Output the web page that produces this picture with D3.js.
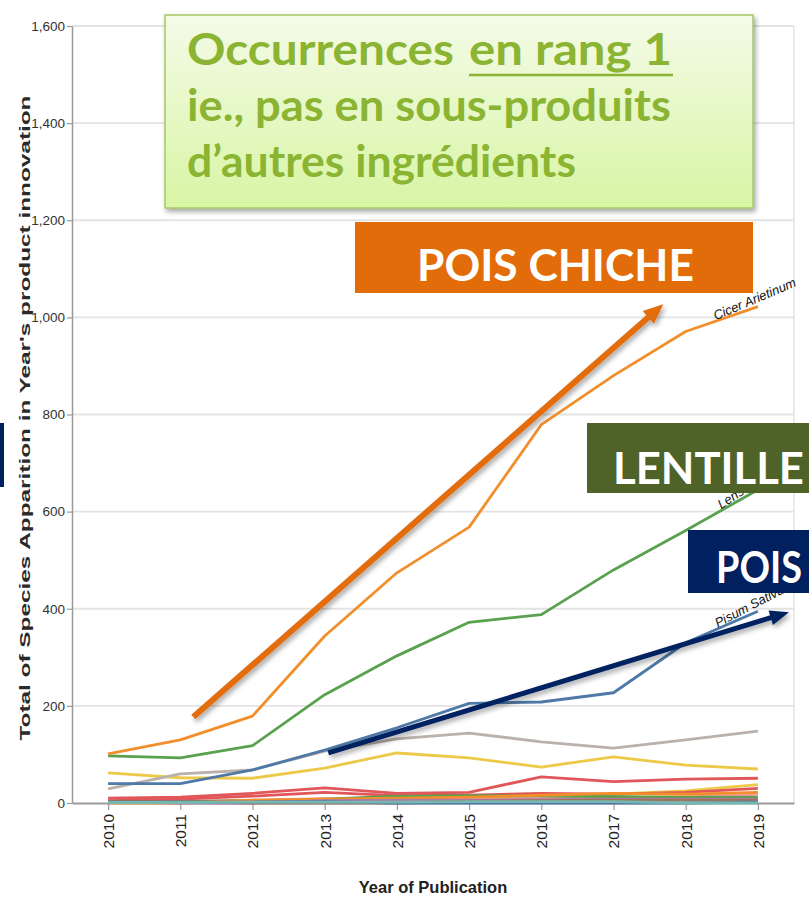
<!DOCTYPE html>
<html><head><meta charset="utf-8">
<script src="https://cdn.jsdelivr.net/npm/d3@7"></script>
<style>body{margin:0;background:#fff}svg{display:block}</style>
</head><body>
<svg id="chart" width="809" height="901"></svg>
<script>
// ---------- data ----------
const years = [2010, 2011, 2012, 2013, 2014, 2015, 2016, 2017, 2018, 2019];
const yTicks = [0, 200, 400, 600, 800, 1000, 1200, 1400, 1600];

const cicerArietinum = [101, 130, 179, 344, 474, 568, 779, 880, 971, 1022];
const lensCulinaris  = [97, 93, 118, 223, 303, 372, 388, 480, 561, 645];
const pisumSativum   = [40, 40, 68, 109, 155, 205, 208, 227, 330, 395];
const speciesGray    = [29, 60, 68, 107, 132, 144, 126, 113, 130, 148];
const speciesYellow  = [62, 52, 51, 72, 103, 93, 74, 95, 78, 70];
const speciesRed     = [10, 12, 20, 31, 20, 22, 54, 44, 49, 51];
const speciesRed2    = [5, 8, 14, 22, 15, 16, 20, 18, 22, 30];
const speciesYellow2 = [2, 3, 5, 8, 10, 12, 15, 18, 25, 38];
const speciesPink    = [3, 4, 6, 9, 7, 8, 9, 10, 12, 18];
const speciesOrange2 = [0, 0, 6, 8, 10, 12, 16, 20, 18, 22];
const speciesGreen2  = [2, 3, 5, 8, 14, 15, 14, 13, 12, 12];
const speciesPurple  = [3, 0, 0, 5, 6, 6, 7, 8, 8, 8];
const speciesBrown   = [4, 3, 0, 0, 0, 4, 5, 6, 6, 6];
const speciesBlue2   = [2, 2, 2, 3, 0, 0, 0, 0, 0, 2];
const speciesTeal    = [1, 1, 2, 2, 2, 3, 3, 3, 0, 0];

const seriesNames  = ["s-yellow2","s-pink","s-red2","s-green2","s-orange2","s-purple","s-brown","s-blue2","s-teal",
                      "s-red","s-yellow","s-gray","Pisum Sativum","Lens Culinaris","Cicer Arietinum"];
const seriesValues = [speciesYellow2, speciesPink, speciesRed2, speciesGreen2, speciesOrange2, speciesPurple, speciesBrown, speciesBlue2, speciesTeal,
                      speciesRed, speciesYellow, speciesGray, pisumSativum, lensCulinaris, cicerArietinum];
const seriesColors = ["#edc948","#ff9da7","#e15759","#59a14f","#f28e2b","#b07aa1","#9c755f","#4e79a7","#76b7b2",
                      "#e15759","#edc948","#bab0ac","#4e79a7","#59a14f","#f28e2b"];
const labelledSeries = ["Pisum Sativum","Lens Culinaris","Cicer Arietinum"];

// annotation arrows (data coordinates: [year, value])
const chickpeaArrow = [[2011.18, 177], [2017.69, 1027]];
const peaArrow      = [[2013.05, 103], [2019.43, 393]];

// ---------- layout ----------
const svg = d3.select("#chart");
const pL = 72, pR = 794, pT = 26, pB = 803;
const x = d3.scalePoint().domain(years).range([pL, pR]).padding(0.5);
const y = d3.scaleLinear().domain([0, 1600]).range([pB, pT]);
const xLin = d3.scaleLinear().domain([years[0], years[years.length-1]]).range([x(years[0]), x(years[years.length-1])]);

const defs = svg.append("defs");
const sh = defs.append("filter").attr("id","shadow").attr("x","-10%").attr("y","-10%").attr("width","130%").attr("height","140%");
sh.append("feDropShadow").attr("dx",2).attr("dy",3).attr("stdDeviation",2.5).attr("flood-color","#000").attr("flood-opacity",0.35);
const gr = defs.append("linearGradient").attr("id","greenGrad").attr("x1",0).attr("y1",0).attr("x2",0).attr("y2",1);
gr.append("stop").attr("offset","0%").attr("stop-color","#f4fbe8");
gr.append("stop").attr("offset","100%").attr("stop-color","#d8f5a4");

const tickFont = "'Liberation Sans Narrow','Arial Narrow','Liberation Sans',Arial,sans-serif";

// gridlines
svg.append("g").selectAll("line").data(yTicks.filter(d => d > 0)).join("line")
  .attr("x1", pL).attr("x2", pR).attr("y1", d => y(d)).attr("y2", d => y(d))
  .attr("stroke", "#e3e3e3").attr("stroke-width", 1.8);
// right border
svg.append("line").attr("x1", pR).attr("x2", pR).attr("y1", pT).attr("y2", pB)
  .attr("stroke", "#e4e4e4").attr("stroke-width", 1.5);

// y axis
const yAxis = svg.append("g").attr("transform", `translate(${pL},0)`)
  .call(d3.axisLeft(y).tickValues(yTicks).tickFormat(d3.format(",")).tickSize(5).tickSizeOuter(0).tickPadding(2));
yAxis.select(".domain").attr("stroke", "#9a9a9a").attr("stroke-width", 1.5);
yAxis.selectAll(".tick line").attr("stroke", "#9a9a9a").attr("stroke-width", 1.2);
yAxis.selectAll(".tick text").attr("font-family", tickFont).attr("font-size", 13.5).attr("fill", "#333");

// x axis
const xAxis = svg.append("g").attr("transform", `translate(0,${pB})`)
  .call(d3.axisBottom(x).tickSize(7).tickSizeOuter(0));
xAxis.select(".domain").attr("stroke", "#9a9a9a").attr("stroke-width", 1.8);
xAxis.selectAll(".tick line").attr("stroke", "#9a9a9a").attr("stroke-width", 1.2);
xAxis.selectAll(".tick text")
  .attr("font-family", "'Liberation Sans',Arial,sans-serif").attr("font-size", 15.5).attr("fill", "#222")
  .attr("transform", "rotate(-90)").attr("text-anchor", "end").attr("x", -11).attr("y", 0).attr("dy", "0.35em");

// axis titles
svg.append("text").attr("transform", `translate(${(pL+pR)/2},893)`)
  .attr("text-anchor", "middle").attr("font-family", tickFont).attr("font-size", 16.5).attr("font-weight", "bold")
  .attr("fill", "#222").text("Year of Publication");
svg.append("text").attr("transform", "translate(30,418) rotate(-90)")
  .attr("text-anchor", "middle").attr("font-family", "'Liberation Sans',Arial,sans-serif").attr("font-size", 15)
  .attr("font-weight", "bold").attr("fill", "#2a2a2a")
  .attr("textLength", 645).attr("lengthAdjust", "spacingAndGlyphs")
  .text("Total of Species Apparition in Year's product innovation");

// lines
const series = seriesNames.map((n, i) => ({name: n, color: seriesColors[i], values: seriesValues[i].map((v, j) => ({year: years[j], value: v}))}));
const line = d3.line().x(d => x(d.year)).y(d => y(d.value));
svg.append("g").selectAll("path").data(series).join("path")
  .attr("d", d => line(d.values)).attr("fill", "none")
  .attr("stroke", d => d.color).attr("stroke-width", 2.8).attr("stroke-linejoin", "round");

// end labels
series.filter(s => labelledSeries.includes(s.name)).forEach(s => {
  const a = s.values[s.values.length - 2], b = s.values[s.values.length - 1];
  const ang = Math.atan2(y(b.value) - y(a.value), x(b.year) - x(a.year)) * 180 / Math.PI - 4;
  svg.append("text")
    .attr("transform", `translate(${x(b.year)},${y(b.value)}) rotate(${ang})`)
    .attr("dy", -4).attr("text-anchor", "middle")
    .attr("font-family", "'Liberation Sans',Arial,sans-serif").attr("font-size", 13).attr("font-style", "italic")
    .attr("fill", "#111").text(s.name);
});

// ---------- annotations ----------
const ann = svg.append("g");
const gFont = "Lato,'Open Sans',Calibri,sans-serif";
const gCol = "#8ab432";

// text squeezed to an exact width by a horizontal scale (keeps its real box inside the page)
function fitText(parent, label, tx, ty, tw, size, fill) {
  const t = parent.append("text").attr("font-family", gFont).attr("font-weight", "bold")
    .attr("font-size", size).attr("fill", fill).text(label);
  const w = t.node().getComputedTextLength();
  t.attr("transform", `translate(${tx},${ty}) scale(${tw / w},1)`);
  return t;
}

// green callout
ann.append("rect").attr("x", 165).attr("y", 15).attr("width", 588).attr("height", 193)
  .attr("fill", "url(#greenGrad)").attr("stroke", "#a6c964").attr("stroke-width", 1.5).attr("filter", "url(#shadow)");
fitText(ann, "Occurrences", 187, 65, 267, 44, gCol);
fitText(ann, "en rang 1", 469, 65, 203, 44, gCol);
ann.append("line").attr("x1", 469).attr("x2", 673).attr("y1", 75).attr("y2", 75).attr("stroke", gCol).attr("stroke-width", 2.5);
fitText(ann, "ie., pas en sous-produits", 187, 121, 484, 44, gCol);
fitText(ann, "d\u2019autres ingr\u00e9dients", 187, 177, 389, 44, gCol);

// coloured tags
function tag(x0, y0, w, h, fill, label, tx, tw, ty) {
  ann.append("rect").attr("x", x0).attr("y", y0).attr("width", w).attr("height", h).attr("fill", fill);
  fitText(ann, label, tx, ty, tw, 44, "#fff");
}
tag(355, 222, 398, 71, "#e36c0a", "POIS CHICHE", 417, 277, 281);
tag(587, 423, 222, 70, "#4f6228", "LENTILLE", 613, 191, 484);
tag(688, 530, 121, 63, "#002060", "POIS", 716, 86, 583);
ann.append("rect").attr("x", 0).attr("y", 423).attr("width", 4).attr("height", 64).attr("fill", "#002060");

// arrows
function arrow(pts, color, width, headL, headW) {
  const [x1, y1] = [xLin(pts[0][0]), y(pts[0][1])];
  const [x2, y2] = [xLin(pts[1][0]), y(pts[1][1])];
  const ang = Math.atan2(y2 - y1, x2 - x1);
  const bx = x2 - headL * Math.cos(ang), by = y2 - headL * Math.sin(ang);
  const g = ann.append("g").attr("filter", "url(#shadow)");
  g.append("line").attr("x1", x1).attr("y1", y1).attr("x2", bx + Math.cos(ang)).attr("y2", by + Math.sin(ang))
    .attr("stroke", color).attr("stroke-width", width);
  const px = -Math.sin(ang) * headW / 2, py = Math.cos(ang) * headW / 2;
  g.append("path").attr("d", `M${x2},${y2}L${bx + px},${by + py}L${bx - px},${by - py}Z`).attr("fill", color);
}
arrow(chickpeaArrow, "#e36c0a", 6, 20, 17);
arrow(peaArrow, "#002060", 5, 19, 15);
</script>
</body></html>
